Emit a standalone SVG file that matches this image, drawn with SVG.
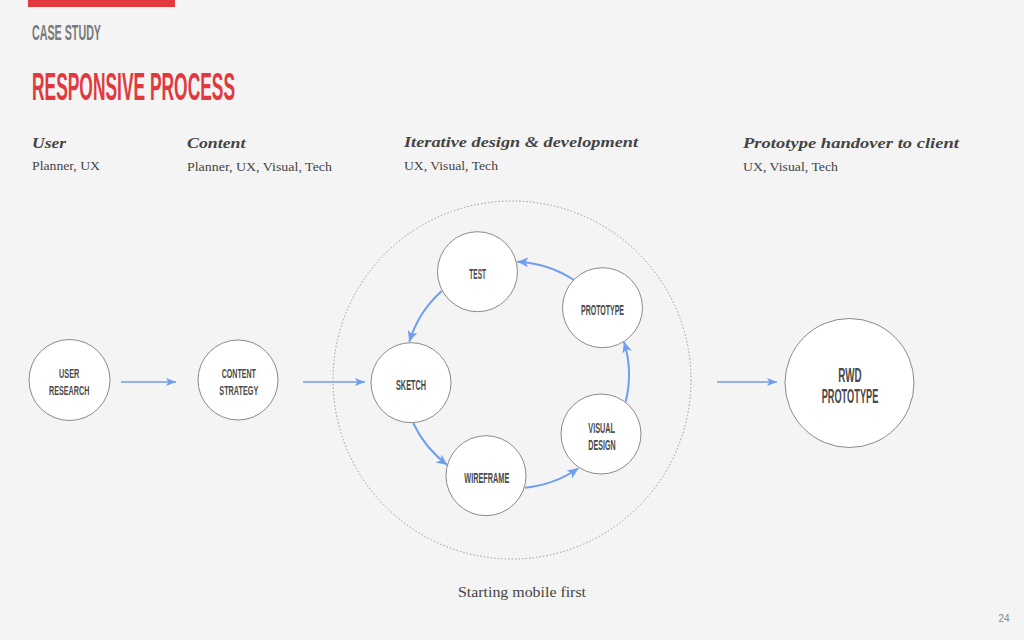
<svg xmlns="http://www.w3.org/2000/svg" width="1024" height="640" viewBox="0 0 1024 640">
<defs>
<style>
.cond{font-family:"Liberation Sans",Arial,sans-serif;font-weight:bold;fill:#4a4a4a;}
.node circle{fill:#fff;stroke:#8a8a8a;stroke-width:1;}
.hdr{font-family:"Liberation Serif","DejaVu Serif",serif;font-style:italic;font-weight:bold;font-size:15px;fill:#444;}
.sub{font-family:"Liberation Serif","DejaVu Serif",serif;font-size:13.5px;fill:#444;}
.conn path,.conn line{fill:none;stroke:#6f9ef0;}
.straight{stroke-width:1.5;marker-end:url(#ah)}
.curve{stroke-width:2;marker-end:url(#ah2)}
</style>
<marker id="ah" markerUnits="userSpaceOnUse" markerWidth="12" markerHeight="10" refX="10" refY="4" orient="auto" viewBox="0 0 12 8">
<path d="M0,0 L10,4 L0,8 L2.5,4 z" fill="#6f9ef0"/>
</marker>
<marker id="ah2" markerUnits="userSpaceOnUse" markerWidth="13" markerHeight="11" refX="11" refY="5" orient="auto" viewBox="0 0 13 10">
<path d="M0,0 L11,5 L0,10 L3,5 z" fill="#6f9ef0"/>
</marker>
</defs>
<rect width="1024" height="640" fill="#f4f4f4"/>
<rect x="28" y="0" width="147" height="7" fill="#e0393e"/>
<text x="32" y="39.5" class="cond" style="font-size:22px;fill:#7a7a7a" textLength="69" lengthAdjust="spacingAndGlyphs">CASE STUDY</text>
<text x="32" y="100" class="cond" style="font-size:39.5px;fill:#e0393e" textLength="203" lengthAdjust="spacingAndGlyphs">RESPONSIVE PROCESS</text>

<text x="32" y="148" class="hdr" textLength="34" lengthAdjust="spacingAndGlyphs">User</text>
<text x="32" y="170" class="sub" textLength="68" lengthAdjust="spacingAndGlyphs">Planner, UX</text>
<text x="187" y="148" class="hdr" textLength="58.5" lengthAdjust="spacingAndGlyphs">Content</text>
<text x="187" y="170.5" class="sub" textLength="145" lengthAdjust="spacingAndGlyphs">Planner, UX, Visual, Tech</text>
<text x="404" y="147" class="hdr" textLength="234" lengthAdjust="spacingAndGlyphs">Iterative design &amp; development</text>
<text x="404" y="169.5" class="sub" textLength="94" lengthAdjust="spacingAndGlyphs">UX, Visual, Tech</text>
<text x="743" y="148" class="hdr" textLength="216" lengthAdjust="spacingAndGlyphs">Prototype handover to client</text>
<text x="743" y="170.5" class="sub" textLength="95" lengthAdjust="spacingAndGlyphs">UX, Visual, Tech</text>

<circle cx="512" cy="380" r="179" fill="none" stroke="#9a9a9a" stroke-width="1" stroke-dasharray="1.5 2"/>

<g class="conn">
<line class="straight" x1="121" y1="382" x2="176" y2="382"/>
<line class="straight" x1="303" y1="382" x2="365" y2="382"/>
<line class="straight" x1="717" y1="382" x2="777" y2="382"/>
<path class="curve" d="M441.7,291 A112.5,112.5 0 0 0 409.3,341.7"/>
<path class="curve" d="M413.3,423.3 A112.5,112.5 0 0 0 447.3,465"/>
<path class="curve" d="M525,487.7 A112.5,112.5 0 0 0 578.3,468.3"/>
<path class="curve" d="M625.7,401.7 A112.5,112.5 0 0 0 624,341.7"/>
<path class="curve" d="M574,280 A112.5,112.5 0 0 0 517.3,261.7"/>
</g>

<g id="user-research" class="node">
<circle cx="69.5" cy="380" r="40.5"/>
<text x="69.2" y="378" class="cond" style="font-size:13.5px" text-anchor="middle" textLength="20.3" lengthAdjust="spacingAndGlyphs">USER</text>
<text x="69.2" y="395" class="cond" style="font-size:13.5px" text-anchor="middle" textLength="40.3" lengthAdjust="spacingAndGlyphs">RESEARCH</text>
</g>
<g id="content-strategy" class="node">
<circle cx="238" cy="380" r="40"/>
<text x="238.8" y="378" class="cond" style="font-size:13.5px" text-anchor="middle" textLength="34.3" lengthAdjust="spacingAndGlyphs">CONTENT</text>
<text x="238.8" y="395" class="cond" style="font-size:13.5px" text-anchor="middle" textLength="39" lengthAdjust="spacingAndGlyphs">STRATEGY</text>
</g>
<g id="test" class="node">
<circle cx="477.5" cy="271.7" r="40"/>
<text x="477.7" y="279.3" class="cond" style="font-size:14.5px" text-anchor="middle" textLength="16.7" lengthAdjust="spacingAndGlyphs">TEST</text>
</g>
<g id="prototype" class="node">
<circle cx="602.5" cy="307.7" r="40"/>
<text x="602.5" y="315" class="cond" style="font-size:14.5px" text-anchor="middle" textLength="43" lengthAdjust="spacingAndGlyphs">PROTOTYPE</text>
</g>
<g id="sketch" class="node">
<circle cx="411" cy="382.7" r="40"/>
<text x="411" y="390" class="cond" style="font-size:14.5px" text-anchor="middle" textLength="30" lengthAdjust="spacingAndGlyphs">SKETCH</text>
</g>
<g id="visual-design" class="node">
<circle cx="601" cy="434" r="40"/>
<text x="601.7" y="433.3" class="cond" style="font-size:14.5px" text-anchor="middle" textLength="26.7" lengthAdjust="spacingAndGlyphs">VISUAL</text>
<text x="602" y="450" class="cond" style="font-size:14.5px" text-anchor="middle" textLength="27.3" lengthAdjust="spacingAndGlyphs">DESIGN</text>
</g>
<g id="wireframe" class="node">
<circle cx="486" cy="475.7" r="40"/>
<text x="486.8" y="482.7" class="cond" style="font-size:14.5px" text-anchor="middle" textLength="45" lengthAdjust="spacingAndGlyphs">WIREFRAME</text>
</g>
<g id="rwd-prototype" class="node">
<circle cx="849.5" cy="383" r="64.5"/>
<text x="850" y="381.7" class="cond" style="font-size:20px" text-anchor="middle" textLength="23.3" lengthAdjust="spacingAndGlyphs">RWD</text>
<text x="850" y="403.3" class="cond" style="font-size:20px" text-anchor="middle" textLength="56.7" lengthAdjust="spacingAndGlyphs">PROTOTYPE</text>
</g>

<text x="522" y="597" class="sub" style="font-size:14px" text-anchor="middle" textLength="128" lengthAdjust="spacingAndGlyphs">Starting mobile first</text>
<text x="1004" y="622" style="font-family:'Liberation Sans',Arial,sans-serif;font-size:10px;fill:#888" text-anchor="middle">24</text>
</svg>
